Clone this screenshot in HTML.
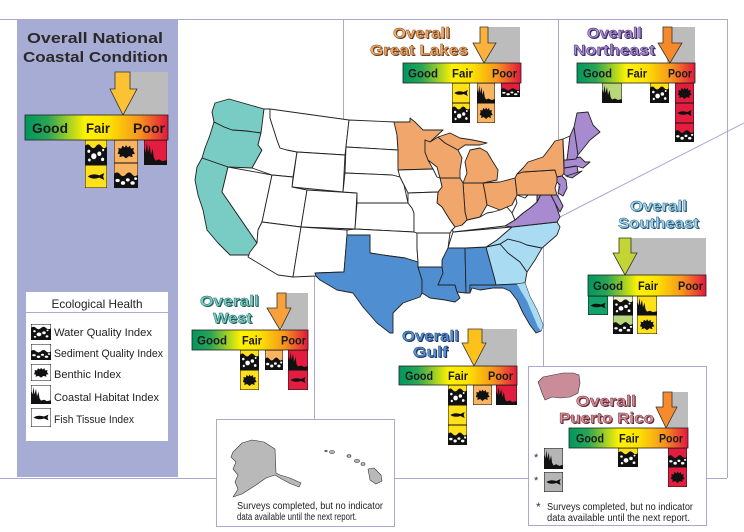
<!DOCTYPE html>
<html><head><meta charset="utf-8"><style>
html,body{margin:0;padding:0;background:#fff;}
svg{display:block;}
text{font-family:"Liberation Sans",Arial,sans-serif;}
.st{stroke:#222;stroke-width:0.9;stroke-linejoin:round;}
.w{fill:#fff;}.tl{fill:#78ccc3;}.or{fill:#f1a76c;}.pu{fill:#a78ad0;}.lb{fill:#a9dbf3;}.mb{fill:#4f8ed1;}
.bl{font-weight:bold;font-size:12px;fill:#1a1a1a;}
.tt{font-weight:bold;font-size:15px;}
.fn{font-size:10px;fill:#222;}
</style></head><body>
<svg width="744" height="532" viewBox="0 0 744 532" xmlns="http://www.w3.org/2000/svg">
<defs>
<linearGradient id="bar" x1="0" x2="1" y1="0" y2="0">
<stop offset="0" stop-color="#00965f"/><stop offset="0.16" stop-color="#2aa555"/><stop offset="0.42" stop-color="#fff200"/><stop offset="0.58" stop-color="#fde300"/><stop offset="0.8" stop-color="#f7941d"/><stop offset="1" stop-color="#e3173e"/>
</linearGradient>
<symbol id="wq" viewBox="0 0 20 20" preserveAspectRatio="none">
<rect width="20" height="20" fill="currentColor"/>
<path d="M0,5 Q2.5,2 5,5 T10,5 T15,5 T20,5 V20 H0Z" fill="#111"/>
<circle cx="3.5" cy="9" r="1.3" fill="#fff"/><circle cx="8" cy="13" r="2.4" fill="#fff"/><circle cx="13" cy="11" r="1.8" fill="#fff"/><circle cx="16.5" cy="8" r="1" fill="#fff"/><circle cx="16" cy="15.5" r="1.4" fill="#fff"/><circle cx="4" cy="16" r="1.2" fill="#fff"/>
<rect width="20" height="20" fill="none" stroke="#111" stroke-width="1" vector-effect="non-scaling-stroke"/>
</symbol>
<symbol id="fish" viewBox="0 0 20 20" preserveAspectRatio="none">
<rect width="20" height="20" fill="currentColor"/>
<path d="M2.5,10 Q7,7 13,9 L17.5,7 L16.5,10 L17.5,13 L13,11 Q7,13 2.5,10Z" fill="#111"/>
<rect width="20" height="20" fill="none" stroke="#111" stroke-width="1" vector-effect="non-scaling-stroke"/>
</symbol>
<symbol id="ben" viewBox="0 0 20 20" preserveAspectRatio="none">
<rect width="20" height="20" fill="currentColor"/>
<path d="M3,12 L4,9 L3.5,7 L6,7.5 L7,5 L9,6.5 L10,4.5 L11.5,6.5 L13.5,5 L14,7.5 L16.5,7 L16,9.5 L17.5,12 L15,12.5 L15.5,15 L12.5,14 L10,16 L7.5,14 L4.5,15 L5,12.5Z" fill="#111"/>
<rect width="20" height="20" fill="none" stroke="#111" stroke-width="1" vector-effect="non-scaling-stroke"/>
</symbol>
<symbol id="sed" viewBox="0 0 20 20" preserveAspectRatio="none">
<rect width="20" height="20" fill="currentColor"/>
<path d="M0,9 Q2.5,6 5,9 T10,9 T15,9 T20,9 V20 H0Z" fill="#111"/>
<ellipse cx="3" cy="14" rx="1.8" ry="1.3" fill="#fff"/><ellipse cx="7.5" cy="16" rx="1.8" ry="1.5" fill="#fff"/><ellipse cx="11.5" cy="13.5" rx="1.6" ry="1.3" fill="#fff"/><ellipse cx="15.5" cy="16" rx="1.8" ry="1.4" fill="#fff"/><ellipse cx="18" cy="12.5" rx="1.2" ry="1.1" fill="#fff"/>
<rect width="20" height="20" fill="none" stroke="#111" stroke-width="1" vector-effect="non-scaling-stroke"/>
</symbol>
<symbol id="hab" viewBox="0 0 20 20" preserveAspectRatio="none">
<rect width="20" height="20" fill="currentColor"/>
<path d="M0,20 V5 L1.5,10 L2.5,2 L3.5,10 L5,4 L6,12 L7.5,7 L8.5,14 L10,16.5 L13,15.5 L16,17 L20,16 V20Z" fill="#111"/>
<rect width="20" height="20" fill="none" stroke="#111" stroke-width="1" vector-effect="non-scaling-stroke"/>
</symbol>
</defs>

<!-- frame -->
<rect x="17" y="19" width="161" height="458" fill="#a7acd5"/>
<g stroke="#a9a9cf" stroke-width="1" fill="none">
<line x1="0" y1="19.5" x2="727" y2="19.5"/>
<line x1="727.5" y1="19" x2="727.5" y2="478"/>
<line x1="0" y1="478.5" x2="727" y2="478.5"/>
<line x1="343.5" y1="19" x2="343.5" y2="120"/>
<line x1="558.5" y1="19" x2="558.5" y2="218"/>
<line x1="558" y1="218" x2="744" y2="123"/>
<line x1="543.5" y1="218" x2="543.5" y2="366"/>
<line x1="314.5" y1="268" x2="314.5" y2="419"/>
</g>

<!-- map -->
<g class="st">
<polygon class="tl" points="215,103 229,99 264,109 263,120 261,133 246,131 232,130 224,127 214,122 212,112"/>
<polygon class="tl" points="214,122 224,127 232,130 246,131 261,133 258,145 262,150 252,168 228,167 202,158 205,148 210,135"/>
<polygon class="tl" points="202,158 228,167 222,192 257,243 255,250 250,255 230,255 225,250 218,243 207,230 203,210 198,195 195,180 197,167"/>
<polygon class="w" points="228,167 272,175 262,222 258,230 257,243 222,192"/>
<polygon class="w" points="264,109 270,109 270,118 277,140 280,148 287,150 297,152 293,177 272,175 252,168 262,150 258,145 261,133"/>
<polygon class="w" points="270,109 349,120 345,155 297,152 287,150 280,148 277,140 270,118"/>
<polygon class="w" points="297,152 345,155 343,192 292,187"/>
<polygon class="w" points="272,175 293,177 292,187 307,190 301,227 262,222"/>
<polygon class="w" points="307,190 357,193 355,229 301,227"/>
<polygon class="w" points="262,222 301,227 293,277 278,275 248,257 250,252 257,243 258,230"/>
<polygon class="w" points="301,227 347,230 347,235 344,272 315,273 316,276 293,277"/>
<polygon class="w" points="349,120 395,122 397,135 398,150 346,147"/>
<polygon class="w" points="346,147 398,150 398,163 400,177 392,175 345,173"/>
<polygon class="w" points="345,173 392,175 400,177 404,185 408,203 357,203 357,193 343,192"/>
<polygon class="w" points="357,203 408,203 412,208 414,213 414,232 355,229"/>
<polygon class="w" points="347,230 355,229 414,232 417,233 417,248 418,262 405,258 390,256 370,253 370,235 347,235"/>
<polygon class="mb" points="347,235 370,235 370,253 390,256 405,258 418,262 418,267 422,280 422,293 420,297 403,303 393,313 393,333 390,333 377,323 363,307 353,293 337,290 320,280 316,276 315,273 344,272"/>
<polygon class="mb" points="418,267 442,267 443,273 438,285 455,285 457,292 460,298 455,302 445,300 430,298 422,293 422,280"/>
<polygon class="mb" points="442,248 465,248 466,293 457,292 455,285 438,285 443,273 442,267 442,260"/>
<polygon class="mb" points="465,248 486,247 495,280 496,285 470,285 470,293 466,293"/>
<polygon class="lb" points="486,247 500,244 508,253 520,262 527,272 525,283 517,284 496,285 495,280"/>
<polygon class="mb" points="470,285 496,285 517,284 525,283 530,297 537,310 543,325 541,331 536,333 530,325 523,313 517,300 510,291 503,288 493,288 480,290 472,288 470,293"/>
<polygon class="lb" style="stroke:none" points="517,284 525,283 530,297 537,310 543,325 541,331 538,327 532,313 527,301 521,291"/>
<polygon class="lb" points="500,244 508,239 520,242 527,245 542,248 535,260 527,272 520,262 508,253"/>
<polygon class="lb" points="512,227 557,222 560,227 557,235 542,248 527,245 520,242 508,239 500,244 486,247 497,240 505,233"/>
<polygon class="w" points="453,232 512,227 505,233 497,240 486,247 465,248 448,248 451,238"/>
<polygon class="w" points="452,227 462,225 467,220 480,217 487,213 493,212 500,210 507,207 512,213 515,220 505,226 453,232"/>
<polygon class="pu" points="505,226 515,220 523,213 530,208 537,202 542,192 550,193 555,203 560,217 557,222 512,227"/>
<polygon class="w" points="512,213 517,203 515,195 517,195 525,198 528,195 537,195 537,202 530,208 523,213 515,220"/>
<polygon class="pu" points="528,195 557,195 560,200 563,206 560,212 555,203 550,193 542,192 537,202 537,195"/>
<polygon class="or" points="515,178 517,174 523,172 555,170 557,177 557,182 555,188 557,195 517,195"/>
<polygon class="or" points="517,174 523,168 528,162 543,157 550,148 555,141 563,139 564,173 562,176 557,177 555,170 523,172"/>
<polygon class="pu" points="557,177 562,176 566,180 567,188 563,196 558,193 560,185 557,182"/>
<polygon class="pu" points="564,168 577,166 578,172 568,177 564,174"/>
<polygon class="pu" points="564,160 580,157 585,162 590,162 583,168 576,166 564,168"/>
<polygon class="w" points="563,139 570,136 567,160 564,160"/>
<polygon class="pu" points="570,136 574,127 578,155 576,159 567,160"/>
<polygon class="pu" points="574,127 577,113 588,112 593,125 600,132 590,140 582,150 578,155"/>
<polygon class="pu" points="566,176 582,171 572,178"/>
<polygon class="or" points="483,183 500,182 515,178 517,195 512,205 507,207 500,210 487,205 485,193"/>
<polygon class="or" points="463,183 483,183 485,193 487,205 480,217 467,220 465,212"/>
<polygon class="or" points="440,178 460,178 463,183 465,212 467,220 462,225 455,227 450,220 445,212 442,207 437,203 438,192 442,187"/>
<polygon class="or" points="394,122 410,122 410,118 415,122 423,130 443,130 430,142 425,140 425,152 428,160 433,169 398,170 398,150 397,135"/>
<polygon class="or" points="425,140 430,142 438,137 445,143 458,150 462,158 460,170 460,178 440,178 437,167 428,160 425,152"/>
<polygon class="or" points="438,137 450,133 460,138 473,140 487,143 480,145 465,145 458,150 445,143"/>
<polygon class="or" points="467,173 465,162 470,150 480,148 487,152 493,162 498,170 497,180 483,183 463,183"/>
<polygon class="w" points="398,170 433,169 437,177 440,178 442,187 438,192 408,193 404,185 400,177"/>
<polygon class="w" points="408,193 438,192 437,203 442,207 445,212 450,220 455,227 452,230 450,233 417,233 414,232 414,213 412,208 408,203"/>
<polygon class="w" points="417,233 450,233 448,248 442,260 442,267 418,267 418,262 417,248"/>
</g>

<!-- National panel -->
<text class="tt" x="27" y="43" textLength="136" lengthAdjust="spacingAndGlyphs" fill="#2a2a2a">Overall National</text>
<text class="tt" x="23" y="62" textLength="145" lengthAdjust="spacingAndGlyphs" fill="#2a2a2a">Coastal Condition</text>
<rect x="122" y="72" width="46" height="43" fill="#bcbcbc"/>
<polygon points="115,72 130,72 130,89 137,89 123,115 110,89 115,89" fill="#fcc234" stroke="#333" stroke-width="0.8"/>
<rect x="25" y="115" width="143" height="25" fill="url(#bar)" stroke="#222" stroke-width="0.8"/>
<text class="bl" x="32" y="133" style="font-size:14px" textLength="36" lengthAdjust="spacingAndGlyphs">Good</text>
<text class="bl" x="86" y="133" style="font-size:14px" textLength="24" lengthAdjust="spacingAndGlyphs">Fair</text>
<text class="bl" x="133" y="133" style="font-size:14px" textLength="32" lengthAdjust="spacingAndGlyphs">Poor</text>
<use href="#wq" x="85" y="140" width="22" height="25" style="color:#ffe11b"/>
<use href="#fish" x="85" y="165" width="22" height="23" style="color:#ffe11b"/>
<use href="#ben" x="114" y="140" width="24" height="23" style="color:#f9b462"/>
<use href="#sed" x="114" y="163" width="24" height="25" style="color:#f9b462"/>
<use href="#hab" x="144" y="140" width="23" height="25" style="color:#e21d3f"/>

<!-- Legend -->
<rect x="26" y="292" width="142" height="149" fill="#fff"/>
<text x="97" y="308" text-anchor="middle" font-size="12" fill="#222" textLength="91" lengthAdjust="spacingAndGlyphs">Ecological Health</text>
<line x1="26" y1="312.5" x2="168" y2="312.5" stroke="#a7acd5" stroke-width="1"/>
<use href="#wq" x="31" y="324" width="20" height="16" style="color:#fff"/>
<use href="#sed" x="31" y="344" width="20" height="16" style="color:#fff"/>
<use href="#ben" x="31" y="364" width="20" height="17" style="color:#fff"/>
<use href="#hab" x="31" y="385" width="20" height="19" style="color:#fff"/>
<use href="#fish" x="31" y="408" width="20" height="19" style="color:#fff"/>
<g font-size="11" fill="#222">
<text x="54" y="336" textLength="98" lengthAdjust="spacingAndGlyphs">Water Quality Index</text>
<text x="54" y="357" textLength="109" lengthAdjust="spacingAndGlyphs">Sediment Quality Index</text>
<text x="54" y="378" textLength="67" lengthAdjust="spacingAndGlyphs">Benthic Index</text>
<text x="54" y="401" textLength="105" lengthAdjust="spacingAndGlyphs">Coastal Habitat Index</text>
<text x="54" y="423" textLength="80" lengthAdjust="spacingAndGlyphs">Fish Tissue Index</text>
</g>

<!-- Great Lakes -->
<g class="tt">
<text x="394" y="39" textLength="57" lengthAdjust="spacingAndGlyphs" fill="#6b3f1e">Overall</text>
<text x="393" y="38" textLength="57" lengthAdjust="spacingAndGlyphs" fill="#f2a866" stroke="#7a4a25" stroke-width="0.4">Overall</text>
<text x="371" y="56" textLength="98" lengthAdjust="spacingAndGlyphs" fill="#6b3f1e">Great Lakes</text>
<text x="370" y="55" textLength="98" lengthAdjust="spacingAndGlyphs" fill="#f2a866" stroke="#7a4a25" stroke-width="0.4">Great Lakes</text>
</g>
<rect x="484" y="27" width="36" height="36" fill="#bcbcbc"/>
<polygon points="480,27 488,27 488,43 496,43 484,63 473,43 480,43" fill="#fbb13c" stroke="#333" stroke-width="0.8"/>
<rect x="403" y="63" width="118" height="20" fill="url(#bar)" stroke="#222" stroke-width="0.8"/>
<text class="bl" x="408" y="77.5" textLength="30" lengthAdjust="spacingAndGlyphs">Good</text>
<text class="bl" x="452" y="77.5" textLength="21" lengthAdjust="spacingAndGlyphs">Fair</text>
<text class="bl" x="492" y="77.5" textLength="25" lengthAdjust="spacingAndGlyphs">Poor</text>
<use href="#fish" x="452" y="83" width="18" height="20" style="color:#ffe11b"/>
<use href="#wq" x="452" y="103" width="18" height="20" style="color:#ffe11b"/>
<use href="#hab" x="477" y="83" width="18" height="20" style="color:#f9b462"/>
<use href="#ben" x="477" y="103" width="18" height="20" style="color:#f9b462"/>
<use href="#sed" x="501" y="83" width="19" height="14" style="color:#e21d3f"/>

<!-- Northeast -->
<g class="tt">
<text x="588" y="39" textLength="55" lengthAdjust="spacingAndGlyphs" fill="#3d2a66">Overall</text>
<text x="587" y="38" textLength="55" lengthAdjust="spacingAndGlyphs" fill="#a88bd0" stroke="#3d2a66" stroke-width="0.4">Overall</text>
<text x="574" y="56" textLength="82" lengthAdjust="spacingAndGlyphs" fill="#3d2a66">Northeast</text>
<text x="573" y="55" textLength="82" lengthAdjust="spacingAndGlyphs" fill="#a88bd0" stroke="#3d2a66" stroke-width="0.4">Northeast</text>
</g>
<rect x="667" y="27" width="28" height="36" fill="#bcbcbc"/>
<polygon points="663,27 672,27 672,43 682,43 670,63 658,43 663,43" fill="#f68a2a" stroke="#333" stroke-width="0.8"/>
<rect x="577" y="63" width="118" height="20" fill="url(#bar)" stroke="#222" stroke-width="0.8"/>
<text class="bl" x="583" y="77.5" textLength="29" lengthAdjust="spacingAndGlyphs">Good</text>
<text class="bl" x="627" y="77.5" textLength="20" lengthAdjust="spacingAndGlyphs">Fair</text>
<text class="bl" x="668" y="77.5" textLength="24" lengthAdjust="spacingAndGlyphs">Poor</text>
<use href="#hab" x="602" y="83" width="20" height="20" style="color:#b8d67a"/>
<use href="#wq" x="650" y="83" width="19" height="20" style="color:#ffe11b"/>
<use href="#ben" x="675" y="83" width="19" height="20" style="color:#e21d3f"/>
<use href="#fish" x="675" y="103" width="19" height="20" style="color:#e21d3f"/>
<use href="#sed" x="675" y="123" width="19" height="19" style="color:#e21d3f"/>

<!-- Southeast -->
<g class="tt">
<text x="631" y="212" textLength="57" lengthAdjust="spacingAndGlyphs" fill="#2a5a78">Overall</text>
<text x="630" y="211" textLength="57" lengthAdjust="spacingAndGlyphs" fill="#a3d9f0" stroke="#2a5a78" stroke-width="0.4">Overall</text>
<text x="619" y="229" textLength="81" lengthAdjust="spacingAndGlyphs" fill="#2a5a78">Southeast</text>
<text x="618" y="228" textLength="81" lengthAdjust="spacingAndGlyphs" fill="#a3d9f0" stroke="#2a5a78" stroke-width="0.4">Southeast</text>
</g>
<rect x="625" y="238" width="81" height="37" fill="#bcbcbc"/>
<polygon points="619,238 631,238 631,253 637,253 625,275 613,253 619,253" fill="#c3d534" stroke="#333" stroke-width="0.8"/>
<rect x="588" y="275" width="118" height="21" fill="url(#bar)" stroke="#222" stroke-width="0.8"/>
<text class="bl" x="593" y="290" textLength="30" lengthAdjust="spacingAndGlyphs">Good</text>
<text class="bl" x="638" y="290" textLength="20" lengthAdjust="spacingAndGlyphs">Fair</text>
<text class="bl" x="678" y="290" textLength="25" lengthAdjust="spacingAndGlyphs">Poor</text>
<use href="#fish" x="588" y="296" width="20" height="19" style="color:#12a36b"/>
<use href="#wq" x="613" y="296" width="20" height="19" style="color:#e8efc0"/>
<use href="#sed" x="613" y="315" width="20" height="19" style="color:#b8d67a"/>
<use href="#hab" x="637" y="296" width="20" height="19" style="color:#ffe11b"/>
<use href="#ben" x="637" y="315" width="20" height="19" style="color:#ffe11b"/>

<!-- West -->
<g class="tt">
<text x="201" y="307" textLength="59" lengthAdjust="spacingAndGlyphs" fill="#1f5f5a">Overall</text>
<text x="200" y="306" textLength="59" lengthAdjust="spacingAndGlyphs" fill="#7ccfc6" stroke="#1f5f5a" stroke-width="0.4">Overall</text>
<text x="214" y="324" textLength="39" lengthAdjust="spacingAndGlyphs" fill="#1f5f5a">West</text>
<text x="213" y="323" textLength="39" lengthAdjust="spacingAndGlyphs" fill="#7ccfc6" stroke="#1f5f5a" stroke-width="0.4">West</text>
</g>
<rect x="282" y="293" width="26" height="37" fill="#bcbcbc"/>
<polygon points="277,293 286,293 286,308 291,308 280,330 267,308 277,308" fill="#f8a13a" stroke="#333" stroke-width="0.8"/>
<rect x="192" y="330" width="116" height="20" fill="url(#bar)" stroke="#222" stroke-width="0.8"/>
<text class="bl" x="197" y="344.5" textLength="30" lengthAdjust="spacingAndGlyphs">Good</text>
<text class="bl" x="242" y="344.5" textLength="20" lengthAdjust="spacingAndGlyphs">Fair</text>
<text class="bl" x="281" y="344.5" textLength="25" lengthAdjust="spacingAndGlyphs">Poor</text>
<use href="#wq" x="240" y="350" width="19" height="20" style="color:#ffe11b"/>
<use href="#ben" x="240" y="370" width="19" height="20" style="color:#ffe11b"/>
<use href="#sed" x="265" y="350" width="18" height="20" style="color:#f9b462"/>
<use href="#hab" x="288" y="350" width="20" height="20" style="color:#e21d3f"/>
<use href="#fish" x="288" y="370" width="20" height="20" style="color:#e21d3f"/>

<!-- Gulf -->
<g class="tt">
<text x="403" y="342" textLength="57" lengthAdjust="spacingAndGlyphs" fill="#1e3a66">Overall</text>
<text x="402" y="341" textLength="57" lengthAdjust="spacingAndGlyphs" fill="#5a8fd2" stroke="#1e3a66" stroke-width="0.4">Overall</text>
<text x="414" y="358" textLength="35" lengthAdjust="spacingAndGlyphs" fill="#1e3a66">Gulf</text>
<text x="413" y="357" textLength="35" lengthAdjust="spacingAndGlyphs" fill="#5a8fd2" stroke="#1e3a66" stroke-width="0.4">Gulf</text>
</g>
<rect x="475" y="329" width="42" height="37" fill="#bcbcbc"/>
<polygon points="468,329 482,329 482,343 486,343 474,366 462,343 468,343" fill="#fcc21b" stroke="#333" stroke-width="0.8"/>
<rect x="399" y="366" width="118" height="19" fill="url(#bar)" stroke="#222" stroke-width="0.8"/>
<text class="bl" x="405" y="380" textLength="28" lengthAdjust="spacingAndGlyphs">Good</text>
<text class="bl" x="448" y="380" textLength="20" lengthAdjust="spacingAndGlyphs">Fair</text>
<text class="bl" x="488" y="380" textLength="25" lengthAdjust="spacingAndGlyphs">Poor</text>
<use href="#wq" x="448" y="385" width="19" height="20" style="color:#ffe11b"/>
<use href="#fish" x="448" y="405" width="19" height="20" style="color:#ffe11b"/>
<use href="#sed" x="448" y="425" width="19" height="20" style="color:#ffe11b"/>
<use href="#ben" x="473" y="385" width="19" height="20" style="color:#f9b462"/>
<use href="#hab" x="496" y="385" width="21" height="20" style="color:#e21d3f"/>

<!-- Alaska / Hawaii box -->
<rect x="216.5" y="419.5" width="178" height="107" fill="#fff" stroke="#a9a9cf" stroke-width="1"/>
<g fill="#b9b9b9" stroke="#333" stroke-width="0.6" stroke-linejoin="round">
<polygon points="233,452 242,443 252,440 264,442 275,449 276,473 280,475 290,478 301,483 299,487 289,483 280,478 275,475 266,478 256,485 242,494 233,497 238,489 235,482 238,475 233,469 236,462 231,457"/>
<ellipse cx="326" cy="451" rx="1.2" ry="0.8"/>
<ellipse cx="332" cy="452" rx="2.5" ry="1.5"/>
<ellipse cx="349" cy="456" rx="2" ry="1.3"/>
<ellipse cx="357" cy="461" rx="2.5" ry="1.4"/>
<ellipse cx="363" cy="464" rx="2" ry="1.5"/>
<polygon points="368,469 374,468 381,475 382,481 376,484 370,480"/>
</g>
<text class="fn" x="237" y="509" textLength="146" lengthAdjust="spacingAndGlyphs">Surveys completed, but no indicator</text>
<text class="fn" x="237" y="520" textLength="120" lengthAdjust="spacingAndGlyphs">data available until the next report.</text>

<!-- Puerto Rico box -->
<rect x="528.5" y="366.5" width="178" height="159" fill="#fff" stroke="#a9a9cf" stroke-width="1"/>
<polygon points="538,382 543,377 553,375 563,373 573,373 579,375 580,383 578,393 570,397 560,398 552,397 545,400 542,393 540,387" fill="#c98c98" stroke="#333" stroke-width="0.6"/>
<g class="tt">
<text x="577" y="407" textLength="60" lengthAdjust="spacingAndGlyphs" fill="#6a2c38">Overall</text>
<text x="576" y="406" textLength="60" lengthAdjust="spacingAndGlyphs" fill="#d4919b" stroke="#6a2c38" stroke-width="0.4">Overall</text>
<text x="560" y="424" textLength="95" lengthAdjust="spacingAndGlyphs" fill="#6a2c38">Puerto Rico</text>
<text x="559" y="423" textLength="95" lengthAdjust="spacingAndGlyphs" fill="#d4919b" stroke="#6a2c38" stroke-width="0.4">Puerto Rico</text>
</g>
<rect x="667" y="392" width="21" height="36" fill="#bcbcbc"/>
<polygon points="663,392 672,392 672,407 677,407 666,428 656,407 663,407" fill="#f68a2c" stroke="#333" stroke-width="0.8"/>
<rect x="569" y="428" width="119" height="20" fill="url(#bar)" stroke="#222" stroke-width="0.8"/>
<text class="bl" x="576" y="442.5" textLength="28" lengthAdjust="spacingAndGlyphs">Good</text>
<text class="bl" x="619" y="442.5" textLength="20" lengthAdjust="spacingAndGlyphs">Fair</text>
<text class="bl" x="659" y="442.5" textLength="24" lengthAdjust="spacingAndGlyphs">Poor</text>
<use href="#wq" x="618" y="448" width="20" height="19" style="color:#ffe11b"/>
<use href="#sed" x="668" y="448" width="19" height="19" style="color:#e21d3f"/>
<use href="#ben" x="668" y="467" width="19" height="20" style="color:#e21d3f"/>
<text x="534" y="461" font-size="11" fill="#333">*</text>
<use href="#hab" x="544" y="448" width="19" height="21" style="color:#b5b5b5"/>
<text x="534" y="484" font-size="11" fill="#333">*</text>
<use href="#fish" x="544" y="472" width="19" height="20" style="color:#b5b5b5"/>
<text x="536" y="511" font-size="12" fill="#333">*</text>
<text class="fn" x="547" y="510" textLength="146" lengthAdjust="spacingAndGlyphs">Surveys completed, but no indicator</text>
<text class="fn" x="547" y="521" textLength="143" lengthAdjust="spacingAndGlyphs">data available until the next report.</text>
</svg>
</body></html>
